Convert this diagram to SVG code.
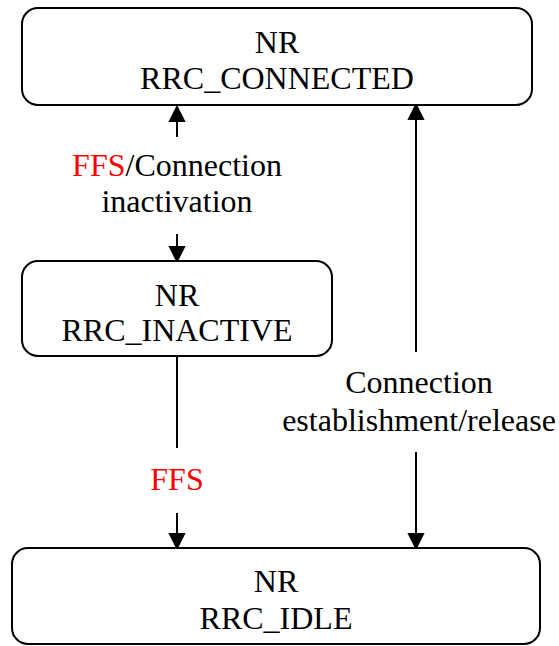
<svg xmlns="http://www.w3.org/2000/svg" width="559" height="646" viewBox="0 0 559 646">
<defs>
<path id="ah" d="M-7,-14 L7,-14 L0,0 Z" fill="#000"/>
</defs>
<g id="connectors" stroke="#000" stroke-width="2" fill="none">
<line x1="177" y1="137" x2="177" y2="120"/>
<use href="#ah" transform="translate(177,107) rotate(180)"/>
<line x1="177" y1="234" x2="177" y2="248"/>
<use href="#ah" transform="translate(177,261)"/>
<line x1="177" y1="356" x2="177" y2="448"/>
<line x1="177" y1="513" x2="177" y2="535"/>
<use href="#ah" transform="translate(177,548)"/>
<line x1="416" y1="352" x2="416" y2="118"/>
<use href="#ah" transform="translate(416,105) rotate(180)"/>
<line x1="416" y1="452" x2="416" y2="535"/>
<use href="#ah" transform="translate(416,548)"/>
</g>
<g id="labels" fill="#000" text-anchor="middle" font-family="Liberation Serif, Times New Roman, serif" font-size="32">
<text style="font-family:'Liberation Serif','Times New Roman',serif;font-size:32px" x="177" y="176"><tspan fill="#ff0000">FFS</tspan>/Connection</text>
<text style="font-family:'Liberation Serif','Times New Roman',serif;font-size:32px" x="177" y="212">inactivation</text>
<text style="font-family:'Liberation Serif','Times New Roman',serif;font-size:32px" fill="#ff0000" x="177" y="490">FFS</text>
<text style="font-family:'Liberation Serif','Times New Roman',serif;font-size:32px" x="419" y="393">Connection</text>
<text style="font-family:'Liberation Serif','Times New Roman',serif;font-size:32px" x="419" y="431">establishment/release</text>
</g>
<g id="rrc_connected" text-anchor="middle" font-family="Liberation Serif, Times New Roman, serif" font-size="32">
<rect x="22" y="8" width="510" height="97" rx="16" fill="#fff" stroke="#000" stroke-width="2"/>
<text style="font-family:'Liberation Serif','Times New Roman',serif;font-size:32px" x="277" y="53">NR</text>
<text style="font-family:'Liberation Serif','Times New Roman',serif;font-size:32px" x="277" y="89">RRC_CONNECTED</text>
</g>
<g id="rrc_inactive" text-anchor="middle" font-family="Liberation Serif, Times New Roman, serif" font-size="32">
<rect x="22" y="261" width="310" height="95" rx="16" fill="#fff" stroke="#000" stroke-width="2"/>
<text style="font-family:'Liberation Serif','Times New Roman',serif;font-size:32px" x="177" y="306">NR</text>
<text style="font-family:'Liberation Serif','Times New Roman',serif;font-size:32px" x="177" y="341">RRC_INACTIVE</text>
</g>
<g id="rrc_idle" text-anchor="middle" font-family="Liberation Serif, Times New Roman, serif" font-size="32">
<rect x="12" y="548" width="528" height="96" rx="16" fill="#fff" stroke="#000" stroke-width="2"/>
<text style="font-family:'Liberation Serif','Times New Roman',serif;font-size:32px" x="276" y="592">NR</text>
<text style="font-family:'Liberation Serif','Times New Roman',serif;font-size:32px" x="276" y="629">RRC_IDLE</text>
</g>
</svg>
